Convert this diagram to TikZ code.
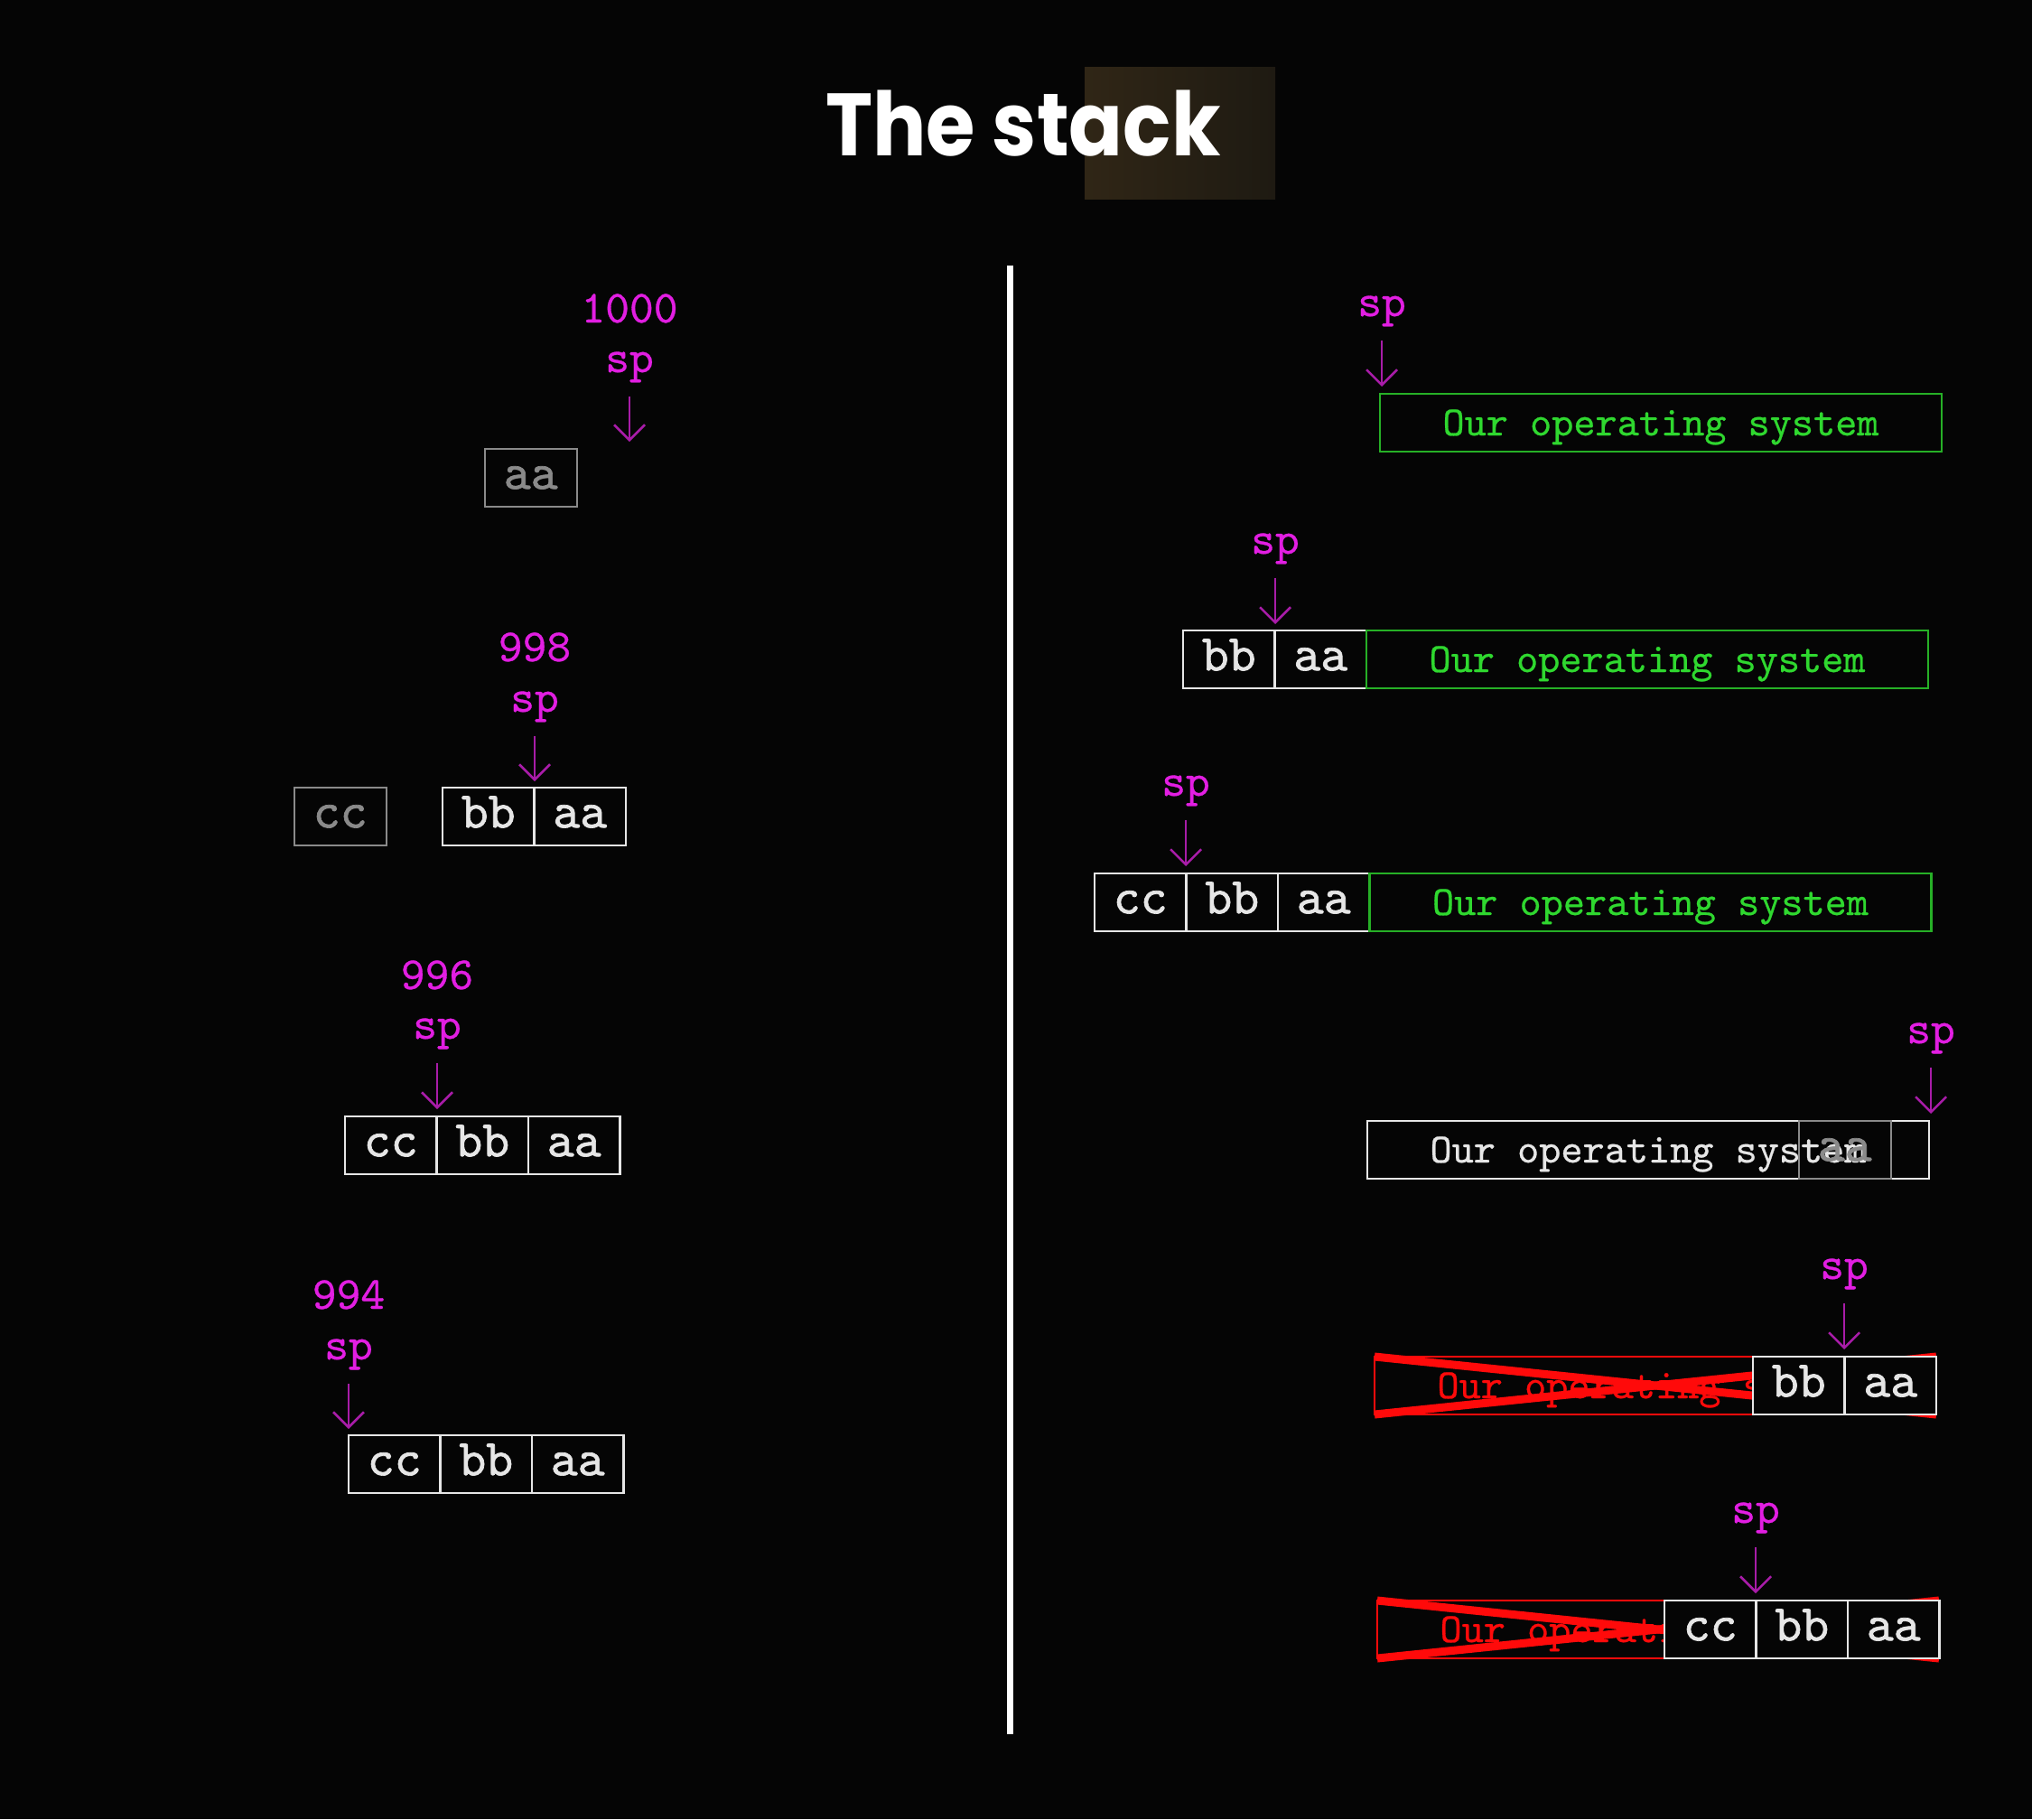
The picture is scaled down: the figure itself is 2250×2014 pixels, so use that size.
\documentclass[tikz,border=0pt]{standalone}
\usepackage{fontspec}
\newfontfamily\titlefont{Poppins}
\newfontfamily\cellmono{lmmono10-regular.otf}[FakeBold=1.2]
\newfontfamily\labmono{lmmono10-regular.otf}[FakeBold=0.6]
\newfontfamily\osmono{lmmono10-regular.otf}[FakeBold=0.6]
\usetikzlibrary{arrows.meta,calc}
\definecolor{bg}{HTML}{050505}
\definecolor{mag}{HTML}{E21EE2}
\definecolor{magline}{HTML}{A81CA8}
\definecolor{osgreen}{HTML}{2FD82F}
\definecolor{osgreenline}{HTML}{26B026}
\definecolor{ghost}{HTML}{8A8A8A}
\definecolor{cellw}{HTML}{E6E6E6}
\definecolor{xred}{HTML}{FF0A0A}
\definecolor{brownA}{HTML}{302616}
\definecolor{brownB}{HTML}{1E1A12}
\newcommand\fnCell{\cellmono\fontsize{57}{60}\selectfont}
\newcommand\fnMag{\labmono\fontsize{51}{54}\selectfont}
\newcommand\fnOS{\osmono\fontsize{46}{50}\selectfont}
\begin{document}
\begin{tikzpicture}[x=1pt,y=-1pt,
  cell/.style={draw=cellw, line width=2.5pt, fill=bg, text=cellw, font=\fnCell,
    minimum width=101.5pt, minimum height=64pt, inner sep=0pt, outer sep=0pt,
    text height=24.6pt, text depth=0pt},
  ghostcell/.style={cell, draw=ghost, text=ghost, fill=none, line width=2pt},
  osbox/.style={line width=2.2pt, font=\fnOS, minimum width=622pt, minimum height=64pt,
    inner sep=0pt, outer sep=0pt, text height=28pt, text depth=0pt},
  osgreenbox/.style={osbox, draw=osgreenline, text=osgreen},
  oswhitebox/.style={osbox, draw=cellw, text=cellw},
  osredbox/.style={osbox, draw=xred, text=xred, line width=2pt},
  xline/.style={xred, line width=9pt},
  maglabel/.style={text=mag, font=\fnMag, inner sep=0pt, anchor=base},
  spar/.style={draw=magline, line width=2.5pt, shorten <=15pt,
    -{Straight Barb[length=17pt,width=34pt]}},
]
% background / bounding box
\fill[bg] (0,0) rectangle (2250,2014);

% title
\fill[left color=brownA, right color=brownB] (1201,74) rectangle (1412,220);
\node[anchor=base, text=white, font=\titlefont\bfseries\fontsize{98}{98}\selectfont, inner sep=0pt]
  (title) at (1133,172) {\scalebox{0.9}[1]{The stack}};

% divider
\coordinate (dtop) at (1118,294);
\coordinate (dbot) at (1118,1920);
\draw[white, line width=7pt] (dtop) -- (dbot);

% ===== Left column =====
% L1
\node[ghostcell, anchor=north west] (l1a) at (537,497) {aa};
\node[maglabel] (l1n) at (697,357) {1000};
\node[maglabel] (l1s) at (697,412) {sp};
\coordinate (l1t) at (697,489);
\draw[spar] (l1s.south) -- (l1t);

% L2
\node[ghostcell, anchor=north west] (l2c) at (326,872) {cc};
\node[cell, anchor=north west] (l2b) at (490,872) {bb};
\node[cell, anchor=west] (l2a) at (l2b.east) {aa};
\node[maglabel] (l2n) at (592,732) {998};
\node[maglabel] (l2s) at (592,788) {sp};
\coordinate (l2t) at (592,865);
\draw[spar] (l2s.south) -- (l2t);

% L3
\node[cell, anchor=north west] (l3c) at (382,1236) {cc};
\node[cell, anchor=west] (l3b) at (l3c.east) {bb};
\node[cell, anchor=west] (l3a) at (l3b.east) {aa};
\node[maglabel] (l3n) at (484,1095) {996};
\node[maglabel] (l3s) at (484,1150) {sp};
\coordinate (l3t) at (484,1228);
\draw[spar] (l3s.south) -- (l3t);

% L4
\node[cell, anchor=north west] (l4c) at (386,1589) {cc};
\node[cell, anchor=west] (l4b) at (l4c.east) {bb};
\node[cell, anchor=west] (l4a) at (l4b.east) {aa};
\node[maglabel] (l4n) at (386,1449) {994};
\node[maglabel] (l4s) at (386,1505) {sp};
\coordinate (l4t) at (386,1582);
\draw[spar] (l4s.south) -- (l4t);

% ===== Right column =====
% R1
\node[osgreenbox, anchor=north west] (r1os) at (1528,436) {Our operating system};
\node[maglabel] (r1s) at (1530,350) {sp};
\coordinate (r1t) at (1530,428);
\draw[spar] (r1s.south) -- (r1t);

% R2
\node[cell, anchor=north west] (r2b) at (1310,698) {bb};
\node[cell, anchor=west] (r2a) at (r2b.east) {aa};
\node[osgreenbox, anchor=west] (r2os) at (r2a.east) {Our operating system};
\node[maglabel] (r2s) at (1412,613) {sp};
\coordinate (r2t) at (1412,691);
\draw[spar] (r2s.south) -- (r2t);

% R3
\node[cell, anchor=north west] (r3c) at (1212,967) {cc};
\node[cell, anchor=west] (r3b) at (r3c.east) {bb};
\node[cell, anchor=west] (r3a) at (r3b.east) {aa};
\node[osgreenbox, anchor=west] (r3os) at (r3a.east) {Our operating system};
\node[maglabel] (r3s) at (1313,881) {sp};
\coordinate (r3t) at (1313,959);
\draw[spar] (r3s.south) -- (r3t);

% R4
\node[oswhitebox, anchor=north west] (r4os) at (1514,1241) {Our operating system};
\node[ghostcell, anchor=north west] (r4g) at (1992,1241) {aa};
\node[maglabel] (r4s) at (2138,1155) {sp};
\coordinate (r4t) at (2138,1233);
\draw[spar] (r4s.south) -- (r4t);

% R5
\node[osredbox, anchor=north west] (r5os) at (1522,1502) {Our operating system};
\draw[xline] (r5os.north west) -- (r5os.south east);
\draw[xline] (r5os.south west) -- (r5os.north east);
\node[cell, anchor=north west] (r5b) at (1941,1502) {bb};
\node[cell, anchor=west] (r5a) at (r5b.east) {aa};
\node[maglabel] (r5s) at (2042,1416) {sp};
\coordinate (r5t) at (2042,1494);
\draw[spar] (r5s.south) -- (r5t);

% R6
\node[osredbox, anchor=north west] (r6os) at (1525,1772) {Our operating system};
\draw[xline] (r6os.north west) -- (r6os.south east);
\draw[xline] (r6os.south west) -- (r6os.north east);
\node[cell, anchor=north west] (r6c) at (1843,1772) {cc};
\node[cell, anchor=west] (r6b) at (r6c.east) {bb};
\node[cell, anchor=west] (r6a) at (r6b.east) {aa};
\node[maglabel] (r6s) at (1944,1686) {sp};
\coordinate (r6t) at (1944,1764);
\draw[spar] (r6s.south) -- (r6t);
\end{tikzpicture}
\end{document}
